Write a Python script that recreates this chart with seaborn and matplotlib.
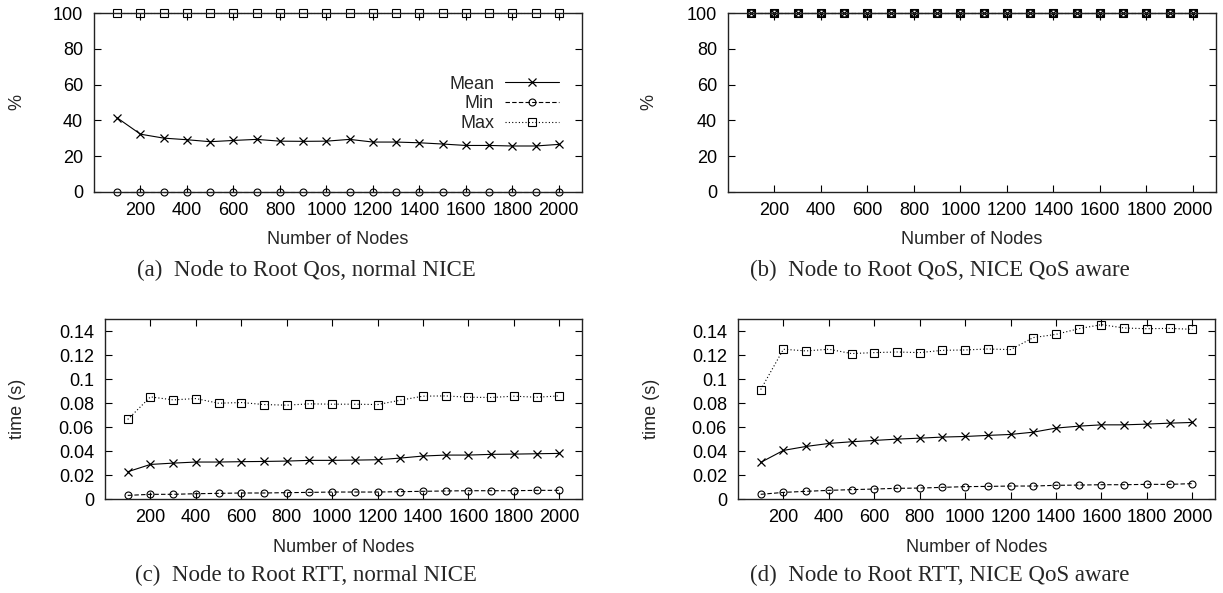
import numpy as np
import pandas as pd
import matplotlib
matplotlib.use('Agg')
import matplotlib.pyplot as plt
import seaborn as sns
from matplotlib.ticker import FixedLocator, FuncFormatter

# number of nodes (x axis, shared by all panels)
nodes = [100, 200, 300, 400, 500, 600, 700, 800, 900, 1000,
         1100, 1200, 1300, 1400, 1500, 1600, 1700, 1800, 1900, 2000]

# (a) Node to Root QoS, normal NICE  (%)
qos_normal_mean = [41.4, 32.3, 30.1, 29.2, 28.1, 28.8, 29.4, 28.4, 28.3, 28.4,
                   29.4, 27.9, 27.9, 27.5, 26.8, 26.0, 26.0, 25.7, 25.7, 26.6]
qos_normal_min = [0] * 20
qos_normal_max = [100] * 20

# (b) Node to Root QoS, NICE QoS aware (%)
qos_aware_mean = [100] * 20
qos_aware_min = [100] * 20
qos_aware_max = [100] * 20

# (c) Node to Root RTT, normal NICE (s)
rtt_normal_mean = [0.0227, 0.0288, 0.0299, 0.0308, 0.0308, 0.0311, 0.0313, 0.0316, 0.0322, 0.0322,
                   0.0324, 0.0327, 0.0341, 0.0358, 0.0366, 0.0366, 0.0372, 0.0374, 0.0377, 0.0380]
rtt_normal_min = [0.0030, 0.0039, 0.0039, 0.0044, 0.0047, 0.0050, 0.0050, 0.0053, 0.0055, 0.0058,
                  0.0058, 0.0058, 0.0061, 0.0064, 0.0067, 0.0069, 0.0069, 0.0069, 0.0072, 0.0072]
rtt_normal_max = [0.0663, 0.0851, 0.0826, 0.0837, 0.0798, 0.0804, 0.0787, 0.0782, 0.0793, 0.0790,
                  0.0790, 0.0787, 0.0823, 0.0857, 0.0859, 0.0848, 0.0846, 0.0857, 0.0848, 0.0859]

# (d) Node to Root RTT, NICE QoS aware (s)
rtt_aware_mean = [0.0305, 0.0405, 0.0438, 0.0463, 0.0477, 0.0488, 0.0499, 0.0507, 0.0516, 0.0521,
                  0.0530, 0.0538, 0.0557, 0.0591, 0.0607, 0.0618, 0.0618, 0.0624, 0.0632, 0.0638]
rtt_aware_min = [0.0039, 0.0055, 0.0064, 0.0072, 0.0078, 0.0083, 0.0089, 0.0091, 0.0097, 0.0103,
                 0.0105, 0.0108, 0.0108, 0.0114, 0.0116, 0.0119, 0.0119, 0.0122, 0.0122, 0.0128]
rtt_aware_max = [0.0912, 0.1248, 0.1234, 0.1248, 0.1212, 0.1220, 0.1225, 0.1220, 0.1239, 0.1242,
                 0.1250, 0.1245, 0.1345, 0.1372, 0.1419, 0.1453, 0.1425, 0.1419, 0.1422, 0.1414]

x_ticks = [200, 400, 600, 800, 1000, 1200, 1400, 1600, 1800, 2000]
pct_ticks = [0, 20, 40, 60, 80, 100]
time_ticks = [0, 0.02, 0.04, 0.06, 0.08, 0.1, 0.12, 0.14]

captions = ['(a)  Node to Root Qos, normal NICE',
            '(b)  Node to Root QoS, NICE QoS aware',
            '(c)  Node to Root RTT, normal NICE',
            '(d)  Node to Root RTT, NICE QoS aware']

sns.set_style('ticks')
plt.rcParams['font.family'] = ['Liberation Sans', 'DejaVu Sans']

# series styles: gnuplot-like black lines
styles = {
    'Mean': dict(ls='-', marker='x', ms=6, mew=0.9),
    'Min': dict(ls=(0, (4, 2)), marker='o', ms=5, mew=0.8),
    'Max': dict(ls=(0, (1, 2)), marker='s', ms=5.5, mew=0.8),
}

W, H = 1223, 593
fig = plt.figure(figsize=(W / 100, H / 100), dpi=100)


def px_axes(left, top, right, bottom):
    return fig.add_axes([left / W, 1 - bottom / H, (right - left) / W, (bottom - top) / H])


panels = [
    (px_axes(94, 13, 582, 192), [qos_normal_mean, qos_normal_min, qos_normal_max], '%', pct_ticks, (0, 100)),
    (px_axes(728, 13, 1216, 192), [qos_aware_mean, qos_aware_min, qos_aware_max], '%', pct_ticks, (0, 100)),
    (px_axes(105, 319, 582, 499), [rtt_normal_mean, rtt_normal_min, rtt_normal_max], 'time (s)', time_ticks, (0, 0.15)),
    (px_axes(738, 319, 1215, 499), [rtt_aware_mean, rtt_aware_min, rtt_aware_max], 'time (s)', time_ticks, (0, 0.15)),
]
ylabel_x = [-0.158, -0.162, -0.184, -0.182]

for i, (ax, series, ylab, yticks, ylim) in enumerate(panels):
    for name, vals in zip(['Mean', 'Min', 'Max'], series):
        st = styles[name]
        sns.lineplot(x=nodes, y=vals, ax=ax, color='black', lw=0.8,
                     linestyle=st['ls'], marker=st['marker'], markersize=st['ms'],
                     markeredgewidth=st['mew'], mec='black', mfc='none',
                     label=name, clip_on=False)
    ax.set_xlim(0, 2100)
    ax.set_ylim(*ylim)
    ax.xaxis.set_major_locator(FixedLocator(x_ticks))
    ax.yaxis.set_major_locator(FixedLocator(yticks))
    ax.yaxis.set_major_formatter(FuncFormatter(lambda v, p: '%g' % v))
    ax.tick_params(direction='in', top=True, right=True, length=5, width=0.8,
                   labelsize=13, colors='black')
    ax.tick_params(axis='x', pad=7)
    ax.tick_params(axis='y', pad=8)
    for sp in ax.spines.values():
        sp.set_linewidth(1.0)
        sp.set_color('#222222')
    ax.set_xlabel('Number of Nodes', fontsize=13)
    ax.set_ylabel(ylab, fontsize=13)
    ax.xaxis.set_label_coords(0.5, -0.268)
    ax.xaxis.label.set_va('center')
    ax.yaxis.set_label_coords(ylabel_x[i], 0.5)
    ax.yaxis.label.set_va('center')
    if i == 0:
        ax.legend(loc='upper right', bbox_to_anchor=(0.953, 0.65), frameon=False,
                  markerfirst=False, fontsize=13, handlelength=3.0, handletextpad=0.6,
                  labelspacing=0.15, borderpad=0, borderaxespad=0)
    else:
        ax.get_legend().remove()

cap_pos = [(306, 270), (940, 270), (306, 575), (940, 575)]
for (cx, cy), text in zip(cap_pos, captions):
    fig.text(cx / W, 1 - cy / H, text, ha='center', va='center', fontsize=16.5,
             family=['Liberation Serif', 'DejaVu Serif'])

fig.savefig('out.png', dpi=100)
